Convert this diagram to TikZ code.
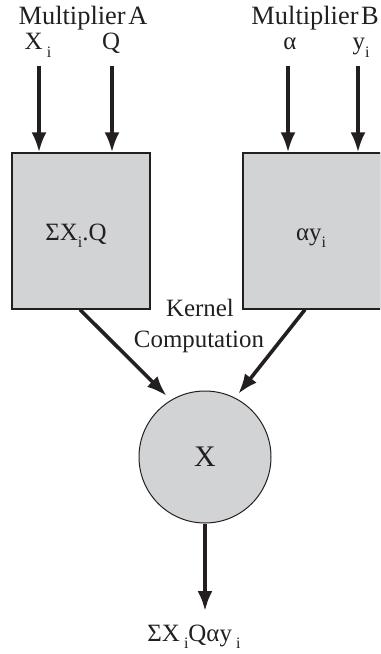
\documentclass[tikz,border=0pt]{standalone}
\usepackage{fontspec}
\setmainfont{Liberation Serif}
\usetikzlibrary{arrows.meta,calc}
\definecolor{boxgray}{HTML}{D1D3D4}
\definecolor{ink}{HTML}{231F20}
\newcommand{\lowsub}[1]{\raisebox{-0.3em}{\fontsize{16}{18}\selectfont #1}}
\begin{document}
\begin{tikzpicture}[x=1bp,y=-1bp,
  every node/.style={font=\fontsize{25}{29}\selectfont, text=ink},
  lbl/.style={anchor=base, inner sep=0pt},
  blk/.style={draw=ink, line width=1.2bp, fill=boxgray, minimum width=138bp, minimum height=156bp, inner sep=0pt},
  mult/.style={circle, draw=ink, line width=1bp, fill=boxgray, minimum size=132bp, inner sep=0pt},
  arr/.style={draw=ink, line width=3.6bp, -{Latex[length=20bp,width=15bp]}}
]
\useasboundingbox (0,0) rectangle (380,654);
\clip (0,0) rectangle (380,654);
% blocks
\node[blk] (boxA) at (81,231) {};
\node[blk] (boxB) at (312,231) {};
\node[mult] (circ) at (205,457) {};
% block texts
\node[lbl] (tA) at (76,240) {ΣX\lowsub{i}.Q};
\node[lbl] (tB) at (311,240) {αy\lowsub{i}};
\node[lbl] (tX) at (205,466) {\fontsize{30}{34}\selectfont X};
% titles
\node[lbl] (mA) at (83,25) {\fontsize{26.5}{30}\selectfont Multiplier\hspace{0.1em}A};
\node[lbl, anchor=base east] (mB) at (379,25) {\fontsize{26.5}{30}\selectfont Multiplier\hspace{0.1em}B};
% input labels
\node[lbl] (lX) at (38,50) {X\,\lowsub{i}};
\node[lbl] (lQ) at (111,50) {Q};
\node[lbl] (la) at (290,50) {α};
\node[lbl] (ly) at (361,50) {y\lowsub{i}};
% kernel label
\node[lbl] (k1) at (200,316) {Kernel};
\node[lbl] (k2) at (199,347) {Computation};
% output label
\node[lbl] (out) at (194,641) {ΣX\,\lowsub{i}Qαy\,\lowsub{i}};
% input arrow starts
\coordinate (s1) at (39,66);
\coordinate (s2) at (112,66);
\coordinate (s3) at (288,66);
\coordinate (s4) at (358,66);
\coordinate (oe) at (205,611);
% arrows
\draw[arr] (s1) -- (s1 |- boxA.north);
\draw[arr] (s2) -- (s2 |- boxA.north);
\draw[arr] (s3) -- (s3 |- boxB.north);
\draw[arr] (s4) -- (s4 |- boxB.north);
\draw[arr, shorten >=6bp] ([xshift=-1bp]boxA.south) -- (circ.121);
\draw[arr, shorten >=5bp] ([xshift=-7bp]boxB.south) -- (circ.63);
\draw[arr] (circ.south) -- (oe);
\end{tikzpicture}
\end{document}
